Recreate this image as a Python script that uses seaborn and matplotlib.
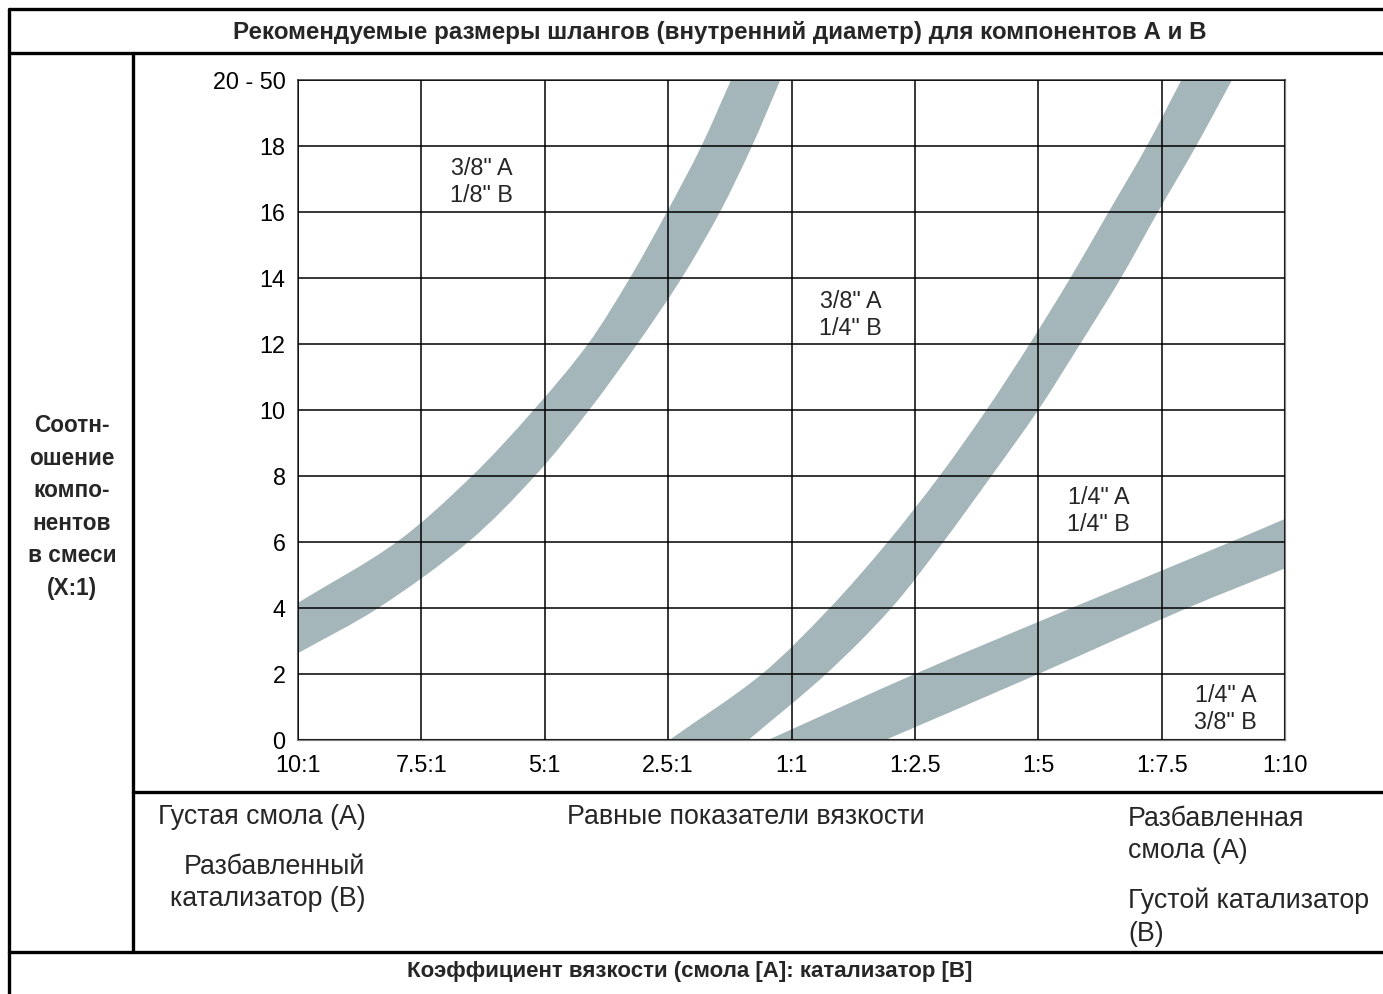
import numpy as np
import matplotlib
matplotlib.use("Agg")
import matplotlib.pyplot as plt
from matplotlib.path import Path
from matplotlib.patches import PathPatch
import seaborn as sns

# категории осей
x_labels = ["10:1", "7.5:1", "5:1", "2.5:1", "1:1", "1:2.5", "1:5", "1:7.5", "1:10"]
y_ticks = list(range(0, 21, 2))
y_labels = ["0", "2", "4", "6", "8", "10", "12", "14", "16", "18", "20 - 50"]

# полоса 1 (3/8"-1/8" | 3/8"-1/4") — пересечения с линиями сетки
band1_upper_x = [0, 0.80, 1.41, 1.91, 2.35, 2.69, 2.99, 3.27, 3.51]
band1_upper_y = [4.16, 6, 8, 10, 12, 14, 16, 18, 20]
band1_lower_x = [0, 0.65, 1.38, 1.92, 2.36, 2.75, 3.11, 3.42, 3.68, 3.91]
band1_lower_y = [2.63, 4, 6, 8, 10, 12, 14, 16, 18, 20]

# полоса 2 (3/8"-1/4" | 1/4"-1/4")
band2_left_x = [3.01, 3.76, 4.31, 4.78, 5.2, 5.58, 5.93, 6.26, 6.57, 6.88, 7.16]
band2_left_y = [0, 2, 4, 6, 8, 10, 12, 14, 16, 18, 20]
band2_right_x = [3.65, 4.28, 4.81, 5.23, 5.62, 6.0, 6.34, 6.67, 6.97, 7.28, 7.57]
band2_right_y = [0, 2, 4, 6, 8, 10, 12, 14, 16, 18, 20]

# полоса 3 (1/4"-1/4" | 1/4"-3/8")
band3_upper_x = [3.81, 5, 6.27, 7.56, 8]
band3_upper_y = [0, 2.0, 4, 6, 6.7]
band3_lower_x = [4.76, 6, 7.21, 8]
band3_lower_y = [0, 2.0, 4, 5.2]

zone_text = ['3/8" A\n1/8" B', '3/8" A\n1/4" B', '1/4" A\n1/4" B', '1/4" A\n3/8" B']
zone_x = [1.49, 4.48, 6.49, 7.52]
zone_y = [16.9, 12.88, 6.94, 0.94]

BAND = "#a4b6b9"


def smooth_edge(xs, ys, first_code=Path.MOVETO):
    """гладкая кривая Безье через точки (хордовая параметризация)"""
    scale = np.array([123.4, 33.0])  # примерно пиксели на единицу
    q = np.column_stack([xs, ys]) * scale
    d = np.linalg.norm(np.diff(q, axis=0), axis=1)
    t = np.concatenate([[0], np.cumsum(d)])
    n = len(q)
    m = np.zeros_like(q)
    m[0] = (q[1] - q[0]) / (t[1] - t[0])
    m[-1] = (q[-1] - q[-2]) / (t[-1] - t[-2])
    for i in range(1, n - 1):
        m[i] = (q[i + 1] - q[i - 1]) / (t[i + 1] - t[i - 1])
    verts = [q[0]]
    codes = [first_code]
    for i in range(n - 1):
        h = t[i + 1] - t[i]
        verts += [q[i] + m[i] * h / 3, q[i + 1] - m[i + 1] * h / 3, q[i + 1]]
        codes += [Path.CURVE4] * 3
    return [v / scale for v in verts], codes


def band_path(ax_, x1, y1, x2, y2):
    v1, c1 = smooth_edge(x1, y1)
    v2, c2 = smooth_edge(x2[::-1], y2[::-1], Path.LINETO)
    verts = v1 + v2 + [v1[0]]
    codes = c1 + c2 + [Path.CLOSEPOLY]
    ax_.add_patch(PathPatch(Path(verts, codes), facecolor=BAND, edgecolor="none", zorder=1))


sns.set_theme(style="white")
plt.rcParams["font.family"] = ["Liberation Sans", "DejaVu Sans"]

W, H = 1383, 994
fig = plt.figure(figsize=(W / 100, H / 100), dpi=100)
fig.patch.set_facecolor("white")

# рамка таблицы (пиксельные координаты)
frame = fig.add_axes([0, 0, 1, 1])
frame.set_xlim(0, W)
frame.set_ylim(H, 0)
frame.axis("off")
lw = 2.4
frame.plot([9, W + 5], [9, 9], color="black", lw=lw)
frame.plot([9, 9], [9, H + 5], color="black", lw=lw)
frame.plot([9, W + 5], [53, 53], color="black", lw=lw)
frame.plot([133, 133], [53, 952], color="black", lw=lw)
frame.plot([133, W + 5], [792, 792], color="black", lw=lw)
frame.plot([9, W + 5], [952, 952], color="black", lw=lw)

frame.text(720, 33, "Рекомендуемые размеры шлангов (внутренний диаметр) для компонентов А и В",
           ha="center", va="center", fontsize=17.4, fontweight="bold")
frame.text(690, 972, "Коэффициент вязкости (смола [А]: катализатор [В]",
           ha="center", va="center", fontsize=16, fontweight="bold")
frame.text(72, 507, "Соотн-\nошение\nкомпо-\nнентов\nв смеси\n(X:1)",
           ha="center", va="center", fontsize=16.3, fontweight="bold", linespacing=1.53)

body = 19.3
frame.text(158, 817, "Густая смола (А)", ha="left", va="center", fontsize=body)
frame.text(365, 883, "Разбавленный\nкатализатор (В)", ha="right", va="center",
           fontsize=body, linespacing=1.33)
frame.text(567, 817, "Равные показатели вязкости", ha="left", va="center", fontsize=body)
frame.text(1128, 835, "Разбавленная\nсмола (А)", ha="left", va="center",
           fontsize=body, linespacing=1.33)
frame.text(1128, 917, "Густой катализатор\n(В)", ha="left", va="center",
           fontsize=body, linespacing=1.33)

# основная диаграмма
ax = fig.add_axes([298 / W, 1 - 740 / H, 987 / W, 660 / H])
ax.set_facecolor("white")

band_path(ax, band1_upper_x, band1_upper_y, band1_lower_x, band1_lower_y)
band_path(ax, band2_left_x, band2_left_y, band2_right_x, band2_right_y)
band_path(ax, band3_upper_x, band3_upper_y, band3_lower_x, band3_lower_y)

for t, tx, ty in zip(zone_text, zone_x, zone_y):
    ax.text(tx, ty, t, ha="center", va="center", fontsize=16.8, linespacing=1.24, zorder=3)

ax.set_xlim(0, 8)
ax.set_ylim(0, 20)
ax.set_xticks(range(len(x_labels)))
ax.set_xticklabels(x_labels)
ax.set_yticks(y_ticks)
ax.set_yticklabels(y_labels)
ax.set_axisbelow(False)
ax.grid(True, color="black", lw=1.1, zorder=2)
ax.tick_params(length=0, labelsize=16.8, colors="black")
ax.tick_params(axis="x", pad=10)
ax.tick_params(axis="y", pad=9)
for side in ["left", "top"]:
    ax.spines[side].set_color("#333333")
    ax.spines[side].set_linewidth(1.1)
for side in ["right", "bottom"]:
    ax.spines[side].set_color("#808080")
    ax.spines[side].set_linewidth(1.6)
ax.set_xlabel("")
ax.set_ylabel("")

fig.savefig("out.png", dpi=100, facecolor="white")
